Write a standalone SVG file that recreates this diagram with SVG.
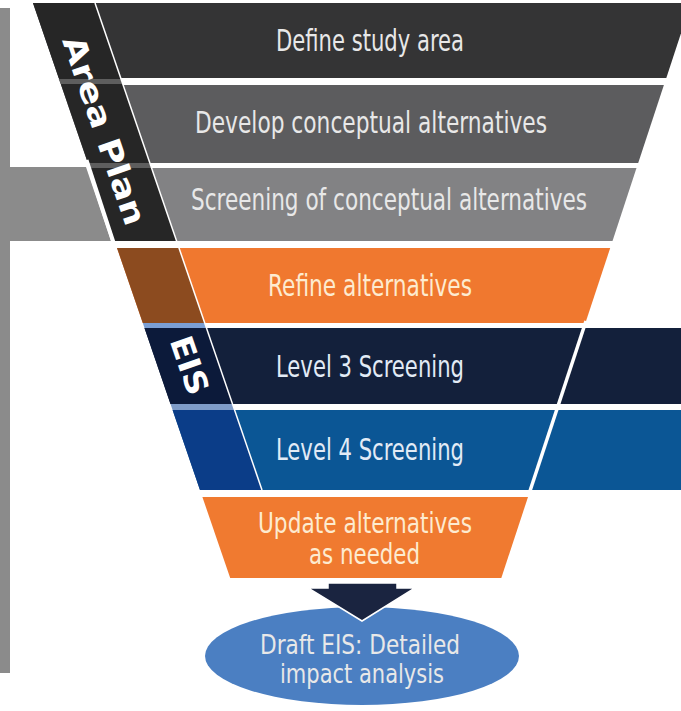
<svg xmlns="http://www.w3.org/2000/svg" width="681" height="711" viewBox="0 0 681 711">
<style>
.t{font-family:"Liberation Sans Narrow","DejaVu Sans Condensed","Liberation Sans",sans-serif;font-size:30px;text-anchor:middle;fill:#e8e8e8}
.s{font-size:29px}
.e{font-size:27px}
.to{fill:#fdebd0}
.tb{fill:#e2ebf6}
.lab{font-family:"DejaVu Sans","Liberation Sans",sans-serif;font-weight:bold;font-size:31px;text-anchor:middle;fill:#ffffff}
</style>
<rect width="681" height="711" fill="#ffffff"/>
<g id="side-bar">
<rect x="0" y="8" width="10" height="665" fill="#8b8b8b"/>
<polygon points="0,167 86,167 111,241 0,241" fill="#8b8b8b"/>
</g>
<g id="band-define">
<polygon points="33,3 691,3 666.3,78 58.7,78" fill="#343435"/>
<text class="t" x="370" y="51" textLength="188" lengthAdjust="spacingAndGlyphs">Define study area</text>
</g>
<g id="band-develop">
<polygon points="61.1,85 663.9,85 638.2,163 87.9,163" fill="#5c5c5e"/>
<text class="t" x="371" y="133" textLength="352" lengthAdjust="spacingAndGlyphs">Develop conceptual alternatives</text>
</g>
<g id="band-screening">
<polygon points="89.6,168 636.5,168 612.5,241 114.6,241" fill="#828284"/>
<text class="t" x="389" y="210" textLength="396" lengthAdjust="spacingAndGlyphs">Screening of conceptual alternatives</text>
</g>
<g id="band-refine">
<polygon points="117,248 610.2,248 585.4,323 142.8,323" fill="#f0782f"/>
<polygon points="117,248 179,248 204.8,323 142.8,323" fill="#8c4b1f"/>
<text class="t to" x="370" y="296" textLength="204" lengthAdjust="spacingAndGlyphs">Refine alternatives</text>
</g>
<g id="band-level3">
<polygon points="144.5,328 681,328 681,404 170.5,404" fill="#13203b"/>
<polygon points="144.5,328 206.5,328 232.5,404 170.5,404" fill="#0c1a3a"/>
<text class="t tb" x="370" y="377" textLength="188" lengthAdjust="spacingAndGlyphs">Level 3 Screening</text>
</g>
<g id="band-level4">
<polygon points="172.6,410 681,410 681,490 200,490" fill="#0b5695"/>
<polygon points="172.6,410 234.6,410 262,490 200,490" fill="#0b3d88"/>
<text class="t tb" x="370" y="460" textLength="188" lengthAdjust="spacingAndGlyphs">Level 4 Screening</text>
</g>
<g id="area-plan-label">
<polygon points="33,3 95,3 176.6,241 114.6,241" fill="#262626"/>
<polygon points="58.7,79 120.7,79 122.8,84 60.8,84" fill="#5e5e5e"/>
<polygon points="87.5,163 149.5,163 151.2,168 89.2,168" fill="#5e5e5e"/>
<text class="lab" transform="translate(94,134) rotate(71.1)" textLength="198" lengthAdjust="spacingAndGlyphs">Area Plan</text>
</g>
<g id="eis-label">
<polygon points="142.8,323 204.8,323 206.5,328 144.5,328" fill="#7b9fd4"/>
<polygon points="170.5,404 232.5,404 234.6,410 172.6,410" fill="#7f9cc8"/>
<text class="lab" transform="translate(179.3,369) rotate(71.1)" textLength="60" lengthAdjust="spacingAndGlyphs">EIS</text>
</g>
<g id="dividers" fill="none" stroke="#ffffff">
<line x1="95" y1="3" x2="262" y2="490" stroke-width="1.5"/>
<line x1="586" y1="321" x2="528" y2="497" stroke-width="3.5"/>
<line x1="86.5" y1="160" x2="114" y2="244" stroke-width="4"/>
</g>
<g id="band-update">
<polygon points="202.4,497 528,497 501.3,578 230.2,578" fill="#f07a30"/>
<text class="t s to" x="365" y="533" textLength="214" lengthAdjust="spacingAndGlyphs">Update alternatives</text>
<text class="t s to" x="364.5" y="564" textLength="111" lengthAdjust="spacingAndGlyphs">as needed</text>
</g>
<g id="draft-eis">
<ellipse cx="362" cy="656" rx="157" ry="49" fill="#4b7fc2"/>
<text class="t e" x="360" y="654" textLength="200" lengthAdjust="spacingAndGlyphs" fill="#e8eef8">Draft EIS: Detailed</text>
<text class="t e" x="362" y="683" textLength="164" lengthAdjust="spacingAndGlyphs" fill="#e8eef8">impact analysis</text>
</g>
<g id="connectors">
<polygon points="328,583 397,583 397,588 415,588 362,621 308,588 328,588" fill="#1a2440" stroke="#ffffff" stroke-width="1.5" stroke-linejoin="miter"/>
</g>
</svg>
